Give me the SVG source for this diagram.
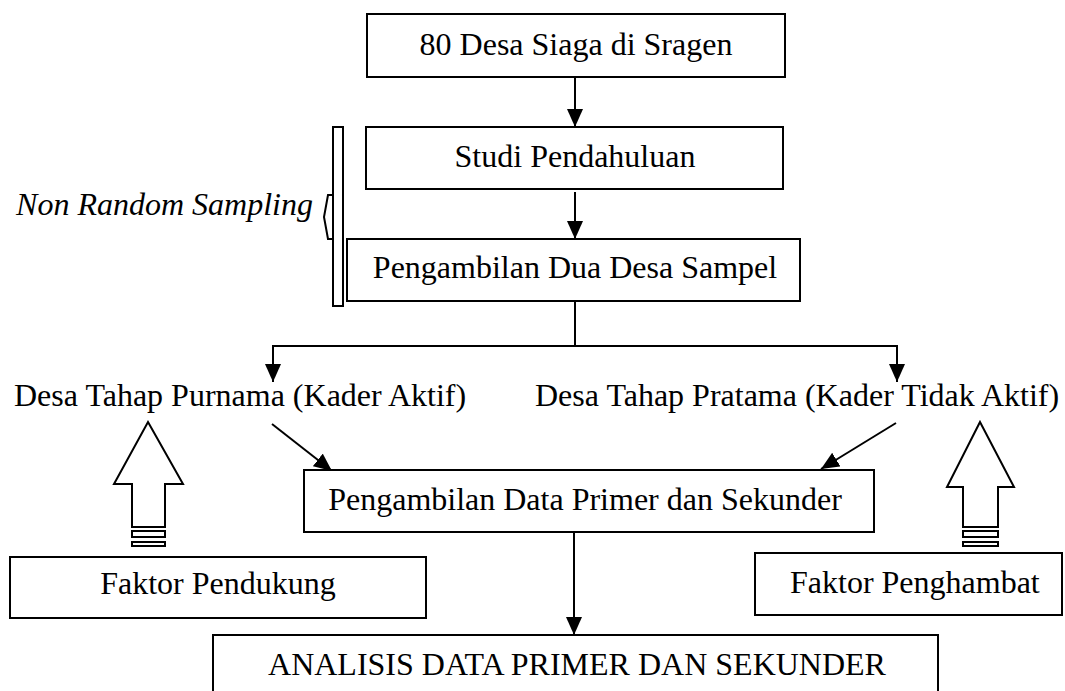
<svg xmlns="http://www.w3.org/2000/svg" width="1065" height="691" viewBox="0 0 1065 691">
<style>
.box{fill:#fff;stroke:#000;stroke-width:2}
.t{font-family:"Liberation Serif","Times New Roman",serif;font-size:32px;fill:#000}
.c{text-anchor:middle}
.ln{fill:none;stroke:#000;stroke-width:2}
.blk{fill:#fff;stroke:#000;stroke-width:2;stroke-linejoin:miter}
</style>
<defs>
<marker id="ah" markerUnits="userSpaceOnUse" markerWidth="16" markerHeight="18" viewBox="0 0 16 18" refX="8" refY="18" orient="auto-start-reverse">
<path d="M0,0 L16,0 L8,18 Z" fill="#000" transform="rotate(0)"/>
</marker>
<marker id="ad" markerUnits="userSpaceOnUse" markerWidth="18" markerHeight="16" viewBox="0 0 18 16" refX="18" refY="8" orient="auto">
<path d="M0,0 L18,8 L0,16 Z" fill="#000"/>
</marker>
</defs>
<rect width="1065" height="691" fill="#fff"/>
<g id="connectors">
<line class="ln" x1="575" y1="77" x2="575" y2="127" marker-end="url(#ad)"/>
<line class="ln" x1="575" y1="192" x2="575" y2="239" marker-end="url(#ad)"/>
<polyline class="ln" points="575,301 575,346"/>
<polyline class="ln" points="273,382 273,346 897,346 897,382"/>
<line class="ln" x1="273" y1="360" x2="273" y2="382" marker-end="url(#ad)"/>
<line class="ln" x1="897" y1="360" x2="897" y2="382" marker-end="url(#ad)"/>
<line class="ln" x1="272" y1="424" x2="332" y2="471" marker-end="url(#ad)"/>
<line class="ln" x1="896" y1="423" x2="821" y2="469" marker-end="url(#ad)"/>
<line class="ln" x1="574" y1="532" x2="574" y2="635" marker-end="url(#ad)"/>
</g>
<g id="n1"><rect class="box" x="367" y="14" width="418" height="63"/><text class="t c" x="576" y="55">80 Desa Siaga di Sragen</text></g>
<g id="n2"><rect class="box" x="366" y="127" width="417" height="62"/><text class="t c" x="575" y="167">Studi Pendahuluan</text></g>
<g id="n3"><rect class="box" x="347" y="239" width="453" height="62"/><text class="t c" x="575" y="278">Pengambilan Dua Desa Sampel</text></g>
<g id="bracket">
<rect class="box" x="333" y="127" width="10" height="179"/>
<path class="ln" d="M333,195 L328,195 L324,217 L328,239 L333,239"/>
<text class="t" x="313" y="215" text-anchor="end" font-style="italic">Non Random Sampling</text>
</g>
<g id="n4"><text class="t" x="14" y="406">Desa Tahap Purnama (Kader Aktif)</text></g>
<g id="n5"><text class="t" x="535" y="406">Desa Tahap Pratama (Kader Tidak Aktif)</text></g>
<g id="n6"><rect class="box" x="304" y="470" width="570" height="62"/><text class="t c" x="585" y="510">Pengambilan Data Primer dan Sekunder</text></g>
<g id="arrowL">
<path class="blk" d="M148,422 L183,484 L165,484 L165,527 L132,527 L132,484 L114,484 Z"/>
<rect class="box" x="132" y="531" width="33" height="6"/>
<rect class="box" x="132" y="542" width="33" height="4"/>
</g>
<g id="arrowR">
<path class="blk" d="M980,422 L1014,487 L998,487 L998,527 L963,527 L963,487 L947,487 Z"/>
<rect class="box" x="963" y="531" width="35" height="6"/>
<rect class="box" x="963" y="542" width="35" height="4"/>
</g>
<g id="n7"><rect class="box" x="10" y="557" width="416" height="61"/><text class="t c" x="218" y="594">Faktor Pendukung</text></g>
<g id="n8"><rect class="box" x="755" y="553" width="307" height="62"/><text class="t" x="790" y="593">Faktor Penghambat</text></g>
<g id="n9"><rect class="box" x="213" y="635" width="725" height="70"/><text class="t c" x="577" y="675">ANALISIS DATA PRIMER DAN SEKUNDER</text></g>
</svg>
